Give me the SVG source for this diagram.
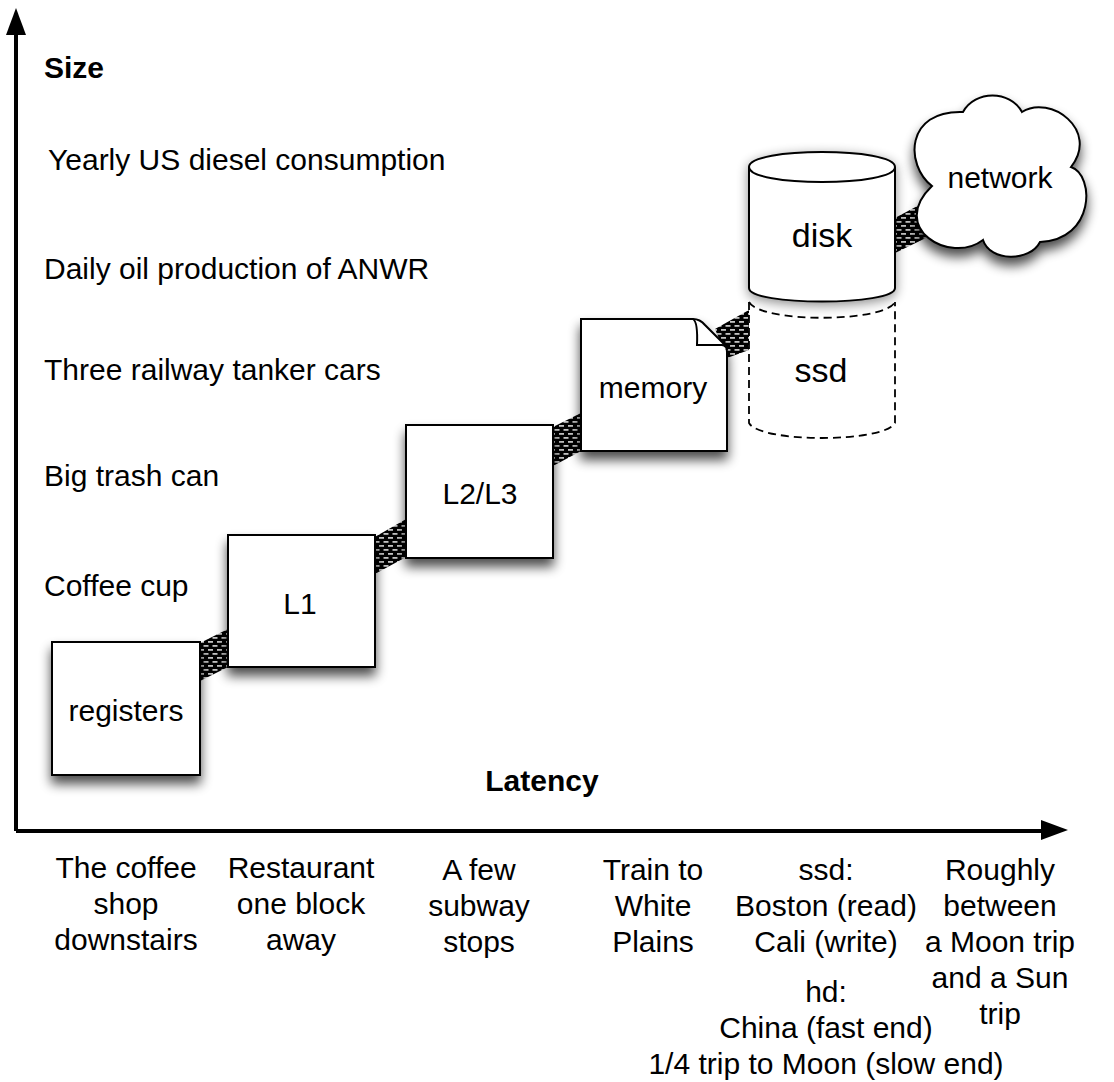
<svg xmlns="http://www.w3.org/2000/svg" width="1114" height="1082" viewBox="0 0 1114 1082">
<style>
text{font-family:"Liberation Sans",Arial,sans-serif;font-size:30px;fill:#000;text-anchor:middle}
.l{text-anchor:start}
.b{font-weight:bold}
.big{font-size:34px}
.s{fill:#fff;stroke:#000;stroke-width:2}
.d{fill:none;stroke:#000;stroke-width:1.8;stroke-dasharray:8 5}
.ax{fill:none;stroke:#000;stroke-width:4}
</style>
<defs>
<filter id="sh" x="-25%" y="-25%" width="150%" height="155%">
<feGaussianBlur in="SourceAlpha" stdDeviation="6"/>
<feOffset dy="8"/>
<feComponentTransfer><feFuncA type="linear" slope="0.7"/></feComponentTransfer>
<feMerge><feMergeNode/><feMergeNode in="SourceGraphic"/></feMerge>
</filter>
<filter id="shd" x="-25%" y="-25%" width="150%" height="155%">
<feGaussianBlur in="SourceAlpha" stdDeviation="6"/>
<feOffset dy="3"/>
<feComponentTransfer><feFuncA type="linear" slope="0.45"/></feComponentTransfer>
<feMerge><feMergeNode/><feMergeNode in="SourceGraphic"/></feMerge>
</filter>
<pattern id="hatch" width="9" height="8" patternUnits="userSpaceOnUse">
<rect width="9" height="8" fill="#000"/>
<rect x="1" y="1" width="5" height="1.8" fill="#c4c4c4"/>
<rect x="5.5" y="5" width="3.5" height="1.8" fill="#c4c4c4"/>
<rect x="0" y="5" width="1.5" height="1.8" fill="#c4c4c4"/>
</pattern>
</defs>
<g id="connectors" fill="url(#hatch)">
<polygon points="198,644 230,628 230,666 198,682"/>
<polygon points="373,538 408,518 408,556 373,575"/>
<polygon points="551,428 583,412 583,450 551,467"/>
<polygon points="715,329 749,310 749,350 727,358"/>
<polygon points="893,219 925,202 930,236 893,254"/>
</g>
<g id="axes">
<path class="ax" d="M16,831V30M16,831H1045"/>
<path d="M16,8L26,35H6Z"/>
<path d="M1068,830L1041,820V840Z"/>
</g>
<g id="registers"><rect class="s" x="52" y="642" width="148" height="133" filter="url(#sh)"/><text x="126" y="721">registers</text></g>
<g id="l1"><rect class="s" x="228" y="535" width="147" height="132" filter="url(#sh)"/><text x="300" y="614">L1</text></g>
<g id="l2l3"><rect class="s" x="406" y="425" width="147" height="133" filter="url(#sh)"/><text x="480" y="504">L2/L3</text></g>
<g id="memory"><path class="s" d="M581,319H693Q700,319 705,325L722,342Q727,347 727,352V451H581Z" filter="url(#sh)"/><path class="s" d="M693,319Q698,322 697,345H722Q727,346 727,350"/><text x="653" y="398">memory</text></g>
<g id="ssd">
<path class="d" d="M749,302C760,323 884,323 895,302"/>
<path class="d" d="M749,302V423C760,443 884,443 895,423V302"/>
<text class="big" x="821" y="382">ssd</text>
</g>
<g id="disk"><path class="s" d="M749,167C749,147 895,147 895,167V288C895,306 749,306 749,288Z" filter="url(#shd)"/><path class="s" style="fill:none" d="M749,167C749,187 895,187 895,167"/><text class="big" x="822" y="247">disk</text></g>
<g id="network"><path class="s" d="M963,112C975,90 1010,90 1022,112C1050,94 1100,130 1071,167C1095,175 1095,240 1040,242C1030,262 990,262 983,240C950,265 888,228 932,186C905,165 905,110 963,112Z" filter="url(#sh)"/><text x="1000" y="188">network</text></g>
<g id="size-labels">
<text class="l b" x="44" y="78">Size</text>
<text class="l" x="48" y="170">Yearly US diesel consumption</text>
<text class="l" x="44" y="279">Daily oil production of ANWR</text>
<text class="l" x="44" y="380">Three railway tanker cars</text>
<text class="l" x="44" y="486">Big trash can</text>
<text class="l" x="44" y="596">Coffee cup</text>
</g>
<g id="latency-labels">
<text class="b" x="542" y="791">Latency</text>
<text x="126" y="878">The coffee</text><text x="126" y="914">shop</text><text x="126" y="950">downstairs</text>
<text x="301" y="878">Restaurant</text><text x="301" y="914">one block</text><text x="301" y="950">away</text>
<text x="479" y="880">A few</text><text x="479" y="916">subway</text><text x="479" y="952">stops</text>
<text x="653" y="880">Train to</text><text x="653" y="916">White</text><text x="653" y="952">Plains</text>
<text x="826" y="880">ssd:</text><text x="826" y="916">Boston (read)</text><text x="826" y="952">Cali (write)</text>
<text x="826" y="1002">hd:</text><text x="826" y="1038">China (fast end)</text><text x="826" y="1074">1/4 trip to Moon (slow end)</text>
<text x="1000" y="880">Roughly</text><text x="1000" y="916">between</text><text x="1000" y="952">a Moon trip</text><text x="1000" y="988">and a Sun</text><text x="1000" y="1024">trip</text>
</g>
</svg>
